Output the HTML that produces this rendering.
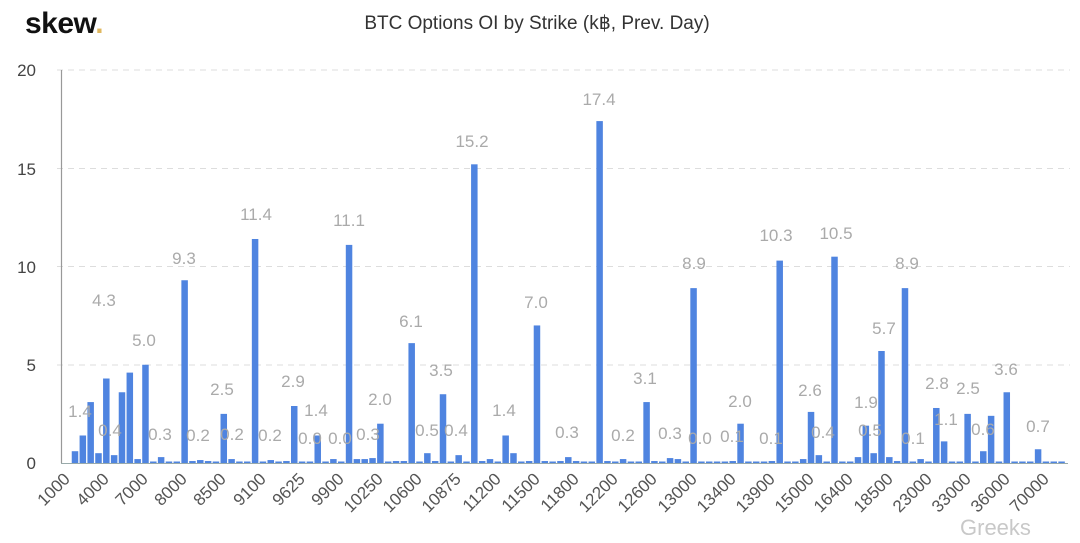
<!DOCTYPE html>
<html><head><meta charset="utf-8"><style>
body{margin:0;background:#fff;width:1080px;height:543px;overflow:hidden}
svg{display:block}
.t{font-family:"Liberation Sans",sans-serif}
</style></head><body>
<svg id="s" width="1080" height="543" xmlns="http://www.w3.org/2000/svg" class="t">
<text x="25" y="33" font-size="30" font-weight="bold" fill="#111" letter-spacing="-0.5">skew<tspan fill="#e0b860">.</tspan></text>
<text x="537" y="29" font-size="19" fill="#333" text-anchor="middle">BTC Options OI by Strike (k฿, Prev. Day)</text>
<g stroke="#ddd" stroke-dasharray="6,5" stroke-width="1">
<line x1="57" x2="1070" y1="70" y2="70"/><line x1="57" x2="1070" y1="168.5" y2="168.5"/>
<line x1="57" x2="1070" y1="266.5" y2="266.5"/><line x1="57" x2="1070" y1="365" y2="365"/>
</g>
<g font-size="17" fill="#444" text-anchor="end">
<text x="36" y="76">20</text><text x="36" y="175">15</text><text x="36" y="273">10</text><text x="36" y="371">5</text><text x="36" y="469">0</text>
</g>
<g id="bars" fill="#4f84e0"></g>
<line x1="61.5" x2="61.5" y1="70" y2="463" stroke="#999" stroke-width="1.2"/>
<line x1="61" x2="1068" y1="463.5" y2="463.5" stroke="#9aa" stroke-width="1"/>
<g font-size="17" fill="#aaa" text-anchor="middle">
<text x="80" y="417">1.4</text><text x="104" y="306">4.3</text><text x="110" y="436">0.4</text><text x="144" y="346">5.0</text><text x="160" y="440">0.3</text><text x="184" y="264">9.3</text><text x="198" y="441">0.2</text><text x="222" y="395">2.5</text><text x="232" y="440">0.2</text><text x="256" y="220">11.4</text><text x="270" y="441">0.2</text><text x="293" y="387">2.9</text><text x="316" y="416">1.4</text><text x="310" y="444">0.0</text><text x="340" y="444">0.0</text><text x="349" y="226">11.1</text><text x="368" y="440">0.3</text><text x="380" y="405">2.0</text><text x="411" y="327">6.1</text><text x="427" y="436">0.5</text><text x="441" y="376">3.5</text><text x="456" y="436">0.4</text><text x="472" y="147">15.2</text><text x="504" y="416">1.4</text><text x="536" y="308">7.0</text><text x="567" y="438">0.3</text><text x="599" y="105">17.4</text><text x="623" y="441">0.2</text><text x="645" y="384">3.1</text><text x="670" y="439">0.3</text><text x="700" y="444">0.0</text><text x="694" y="269">8.9</text><text x="732" y="442">0.1</text><text x="740" y="407">2.0</text><text x="776" y="241">10.3</text><text x="771" y="444">0.1</text><text x="810" y="396">2.6</text><text x="823" y="438">0.4</text><text x="836" y="239">10.5</text><text x="866" y="408">1.9</text><text x="870" y="436">0.5</text><text x="884" y="334">5.7</text><text x="913" y="444">0.1</text><text x="907" y="269">8.9</text><text x="937" y="389">2.8</text><text x="946" y="425">1.1</text><text x="968" y="394">2.5</text><text x="983" y="435">0.6</text><text x="1006" y="375">3.6</text><text x="1038" y="432">0.7</text>
</g>
<g font-size="17" fill="#555" text-anchor="end">
<text transform="translate(71,480) rotate(-45)">1000</text>
<text transform="translate(110,480) rotate(-45)">4000</text>
<text transform="translate(149,480) rotate(-45)">7000</text>
<text transform="translate(188,480) rotate(-45)">8000</text>
<text transform="translate(227,480) rotate(-45)">8500</text>
<text transform="translate(267,480) rotate(-45)">9100</text>
<text transform="translate(306,480) rotate(-45)">9625</text>
<text transform="translate(345,480) rotate(-45)">9900</text>
<text transform="translate(384,480) rotate(-45)">10250</text>
<text transform="translate(423,480) rotate(-45)">10600</text>
<text transform="translate(462,480) rotate(-45)">10875</text>
<text transform="translate(502,480) rotate(-45)">11200</text>
<text transform="translate(541,480) rotate(-45)">11500</text>
<text transform="translate(580,480) rotate(-45)">11800</text>
<text transform="translate(619,480) rotate(-45)">12200</text>
<text transform="translate(658,480) rotate(-45)">12600</text>
<text transform="translate(698,480) rotate(-45)">13000</text>
<text transform="translate(737,480) rotate(-45)">13400</text>
<text transform="translate(776,480) rotate(-45)">13900</text>
<text transform="translate(815,480) rotate(-45)">15000</text>
<text transform="translate(854,480) rotate(-45)">16400</text>
<text transform="translate(894,480) rotate(-45)">18500</text>
<text transform="translate(933,480) rotate(-45)">23000</text>
<text transform="translate(972,480) rotate(-45)">33000</text>
<text transform="translate(1011,480) rotate(-45)">36000</text>
<text transform="translate(1050,480) rotate(-45)">70000</text>
</g>
<text x="960" y="535" font-size="22" fill="#bbb" opacity="0.8">Greeks</text>
</svg>
<script>
var v=[0.6,1.4,3.1,0.5,4.3,0.4,3.6,4.6,0.2,5.0,0,0.3,0,0,9.3,0.1,0.15,0.1,0,2.5,0.2,0.05,0.05,11.4,0.05,0.15,0,0.1,2.9,0,0,1.4,0,0.2,0,11.1,0.2,0.2,0.25,2.0,0.05,0.1,0.1,
6.1,0.05,0.5,0.1,3.5,0,0.4,0,15.2,0.1,0.2,0.05,1.4,0.5,0.05,0.1,7.0,0.1,0,0.1,0.3,0.1,0.05,0.05,17.4,0.1,0,0.2,0,0,3.1,0.1,0,0.25,0.2,0,8.9,0,0,0,0,0.1,2.0,
0,0,0,0.1,10.3,0,0.05,0.2,2.6,0.4,0,10.5,0,0,0.3,1.9,0.5,5.7,0.3,0.1,8.9,0,0.2,0,2.8,1.1,0,0.05,2.5,0,0.6,2.4,0,3.6,0,0,0,0.7,0,0,0.05];
var g=document.getElementById('bars'),ns='http://www.w3.org/2000/svg';
for(var k=0;k<v.length;k++){var h=Math.max(1.5,v[k]*19.65);var r=document.createElementNS(ns,'rect');
r.setAttribute('x',(75+7.83*k-3.25).toFixed(2));r.setAttribute('width','6.5');r.setAttribute('y',(463-h).toFixed(2));r.setAttribute('height',h.toFixed(2));g.appendChild(r);}
</script>
</body></html>
